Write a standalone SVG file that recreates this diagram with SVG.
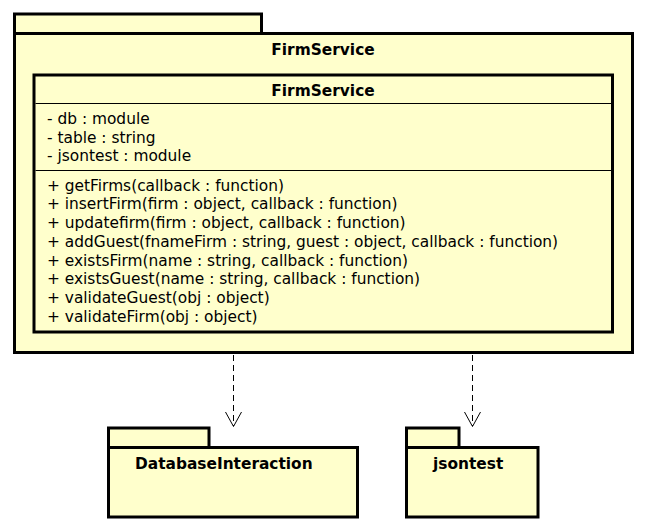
<svg xmlns="http://www.w3.org/2000/svg" width="646" height="530" viewBox="0 0 646 530">
<defs>
<style>
.pkg{fill:#ffffcc;stroke:#000;stroke-width:3}
.sep{stroke:#000;stroke-width:1;fill:none}
.t{font-family:"DejaVu Sans",Verdana,sans-serif;font-size:15.4px;fill:#000}
.b{font-weight:bold}
.dep{stroke:#000;stroke-width:1;fill:none;stroke-dasharray:6,4}
.head{stroke:#000;stroke-width:1;fill:none}
</style>
</defs>
<rect width="646" height="530" fill="#fff"/>
<g id="FirmServicePackage">
<rect class="pkg" x="14.5" y="14" width="247" height="19.5"/>
<rect class="pkg" x="14.5" y="33.5" width="618" height="319"/>
<text class="t b" x="323" y="55" text-anchor="middle">FirmService</text>
</g>
<g id="FirmServiceClass">
<rect class="pkg" x="34" y="75" width="578.5" height="257"/>
<line class="sep" x1="35.5" y1="103.5" x2="611" y2="103.5"/>
<line class="sep" x1="35.5" y1="170.5" x2="611" y2="170.5"/>
<text class="t b" x="323" y="96" text-anchor="middle">FirmService</text>
<text class="t" x="47" y="124">- db : module</text>
<text class="t" x="47" y="142.7">- table : string</text>
<text class="t" x="47" y="161.4">- jsontest : module</text>
<text class="t" x="47" y="190.7">+ getFirms(callback : function)</text>
<text class="t" x="47" y="209.4">+ insertFirm(firm : object, callback : function)</text>
<text class="t" x="47" y="228.1">+ updatefirm(firm : object, callback : function)</text>
<text class="t" x="47" y="246.8">+ addGuest(fnameFirm : string, guest : object, callback : function)</text>
<text class="t" x="47" y="265.5">+ existsFirm(name : string, callback : function)</text>
<text class="t" x="47" y="284.2">+ existsGuest(name : string, callback : function)</text>
<text class="t" x="47" y="302.9">+ validateGuest(obj : object)</text>
<text class="t" x="47" y="321.6">+ validateFirm(obj : object)</text>
</g>
<g id="DatabaseInteraction">
<rect class="pkg" x="108.5" y="428" width="100.5" height="19.5"/>
<rect class="pkg" x="108.5" y="447.5" width="249" height="69.5"/>
<text class="t b" x="135" y="469">DatabaseInteraction</text>
</g>
<g id="jsontest">
<rect class="pkg" x="406.5" y="428" width="52.5" height="19.5"/>
<rect class="pkg" x="406.5" y="447.5" width="131.5" height="69.5"/>
<text class="t b" x="433" y="469">jsontest</text>
</g>
<g id="connectors">
<line class="dep" x1="233.5" y1="355" x2="233.5" y2="426"/>
<polyline class="head" points="225.5,412 233.5,426.5 241.5,412"/>
<line class="dep" x1="472.5" y1="355" x2="472.5" y2="426"/>
<polyline class="head" points="464.5,412 472.5,426.5 480.5,412"/>
</g>
</svg>
